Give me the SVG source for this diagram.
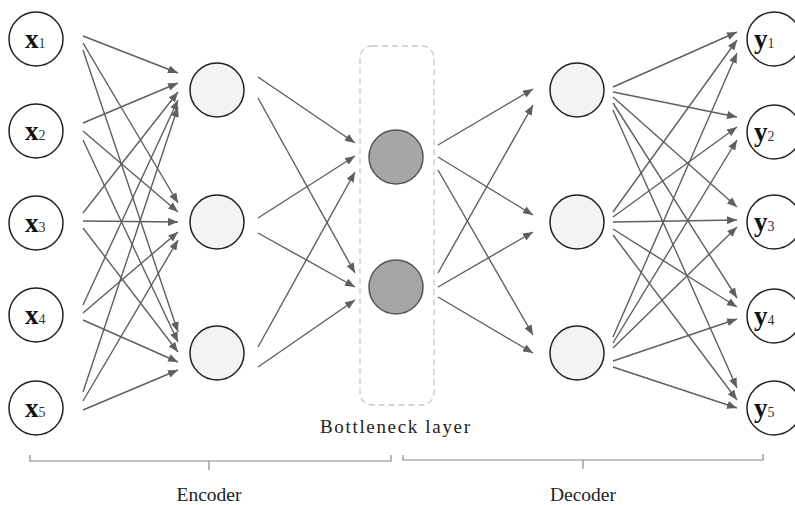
<svg xmlns="http://www.w3.org/2000/svg" width="795" height="505" viewBox="0 0 795 505">
<defs>
<marker id="ah" viewBox="0 0 10 8" refX="10" refY="4" markerWidth="10" markerHeight="8" orient="auto" markerUnits="userSpaceOnUse"><path d="M0,0 L10,4 L0,8 z" fill="#5f5f5f"/></marker>
<style>
.io{fill:#fff;stroke:#222;stroke-width:1.5}
.hid{fill:#f2f3f2;stroke:#222;stroke-width:1.5}
.bn{fill:#a6a6a6;stroke:#555;stroke-width:1.5}
.lbl{font-family:"Liberation Serif",serif;font-size:27px;font-weight:bold;fill:#111}
.sub{font-size:14px;font-weight:normal;fill:#333}
#connectors line{stroke:#5f5f5f;stroke-width:1.4;marker-end:url(#ah)}
.br{fill:none;stroke:#888;stroke-width:1.2}
.cap{font-family:"Liberation Serif",serif;font-size:19.5px;fill:#222;text-anchor:middle}
</style>
</defs>
<rect width="795" height="505" fill="#fff"/>
<rect id="bottleneck-box" x="360" y="46" width="74" height="359" rx="12" fill="none" stroke="#c8c8c8" stroke-width="1.3" stroke-dasharray="6 4"/>
<g id="connectors">
<line x1="83" y1="36" x2="178" y2="73"/>
<line x1="83" y1="43" x2="178" y2="203"/>
<line x1="83" y1="50" x2="178" y2="332"/>
<line x1="83" y1="123" x2="178" y2="83"/>
<line x1="83" y1="131" x2="178" y2="212"/>
<line x1="83" y1="140" x2="178" y2="342"/>
<line x1="83" y1="213" x2="178" y2="92"/>
<line x1="83" y1="221" x2="178" y2="222"/>
<line x1="83" y1="228" x2="178" y2="352"/>
<line x1="83" y1="305" x2="178" y2="100"/>
<line x1="83" y1="313" x2="178" y2="232"/>
<line x1="83" y1="320" x2="178" y2="362"/>
<line x1="83" y1="392" x2="178" y2="107"/>
<line x1="83" y1="401" x2="178" y2="240"/>
<line x1="83" y1="410" x2="178" y2="370"/>
<line x1="258" y1="77" x2="355" y2="143"/>
<line x1="258" y1="98" x2="355" y2="273"/>
<line x1="258" y1="218" x2="355" y2="156"/>
<line x1="258" y1="233" x2="355" y2="287"/>
<line x1="258" y1="347" x2="355" y2="172"/>
<line x1="258" y1="367" x2="355" y2="300"/>
<line x1="438" y1="145" x2="533" y2="89"/>
<line x1="438" y1="157" x2="533" y2="215"/>
<line x1="438" y1="170" x2="533" y2="335"/>
<line x1="438" y1="273" x2="533" y2="105"/>
<line x1="438" y1="287" x2="533" y2="232"/>
<line x1="438" y1="297" x2="533" y2="353"/>
<line x1="613" y1="87" x2="737" y2="32"/>
<line x1="613" y1="92" x2="737" y2="117"/>
<line x1="613" y1="97" x2="737" y2="207"/>
<line x1="613" y1="103" x2="737" y2="298"/>
<line x1="613" y1="110" x2="737" y2="388"/>
<line x1="613" y1="212" x2="737" y2="40"/>
<line x1="613" y1="217" x2="737" y2="127"/>
<line x1="613" y1="222" x2="737" y2="220"/>
<line x1="613" y1="229" x2="737" y2="307"/>
<line x1="613" y1="235" x2="737" y2="400"/>
<line x1="613" y1="337" x2="737" y2="53"/>
<line x1="613" y1="343" x2="737" y2="140"/>
<line x1="613" y1="348" x2="737" y2="227"/>
<line x1="613" y1="361" x2="737" y2="319"/>
<line x1="613" y1="367" x2="737" y2="408"/>
</g>
<g id="x1"><circle class="io" cx="36" cy="39" r="27"/><text class="lbl" x="25" y="48">x<tspan class="sub">1</tspan></text></g>
<g id="x2"><circle class="io" cx="36" cy="131" r="27"/><text class="lbl" x="25" y="140">x<tspan class="sub">2</tspan></text></g>
<g id="x3"><circle class="io" cx="36" cy="223" r="27"/><text class="lbl" x="25" y="232">x<tspan class="sub">3</tspan></text></g>
<g id="x4"><circle class="io" cx="36" cy="315" r="27"/><text class="lbl" x="25" y="324">x<tspan class="sub">4</tspan></text></g>
<g id="x5"><circle class="io" cx="36" cy="408" r="27"/><text class="lbl" x="25" y="417">x<tspan class="sub">5</tspan></text></g>
<g id="h1"><circle class="hid" cx="217" cy="90" r="27"/></g>
<g id="h2"><circle class="hid" cx="217" cy="222" r="27"/></g>
<g id="h3"><circle class="hid" cx="217" cy="353" r="27"/></g>
<g id="b1"><circle class="bn" cx="396" cy="157" r="27"/></g>
<g id="b2"><circle class="bn" cx="396" cy="287" r="27"/></g>
<g id="d1"><circle class="hid" cx="577" cy="90" r="27"/></g>
<g id="d2"><circle class="hid" cx="577" cy="222" r="27"/></g>
<g id="d3"><circle class="hid" cx="577" cy="353" r="27"/></g>
<g id="y1"><circle class="io" cx="774" cy="39" r="27"/><text class="lbl" x="754" y="48">y<tspan class="sub">1</tspan></text></g>
<g id="y2"><circle class="io" cx="774" cy="132" r="27"/><text class="lbl" x="754" y="141">y<tspan class="sub">2</tspan></text></g>
<g id="y3"><circle class="io" cx="774" cy="222" r="27"/><text class="lbl" x="754" y="231">y<tspan class="sub">3</tspan></text></g>
<g id="y4"><circle class="io" cx="774" cy="316" r="27"/><text class="lbl" x="754" y="325">y<tspan class="sub">4</tspan></text></g>
<g id="y5"><circle class="io" cx="774" cy="408" r="27"/><text class="lbl" x="754" y="417">y<tspan class="sub">5</tspan></text></g>
<text x="320" y="433" font-family="Liberation Serif, serif" font-size="19" textLength="150" lengthAdjust="spacing" fill="#222">Bottleneck layer</text>
<g id="encoder-brace"><path class="br" d="M30,455 V461 H391 V455 M209,461 V470"/><text class="cap" x="209" y="501">Encoder</text></g>
<g id="decoder-brace"><path class="br" d="M403,455 V460 H763 V454 M583,460 V469"/><text class="cap" x="583" y="501">Decoder</text></g>
</svg>
